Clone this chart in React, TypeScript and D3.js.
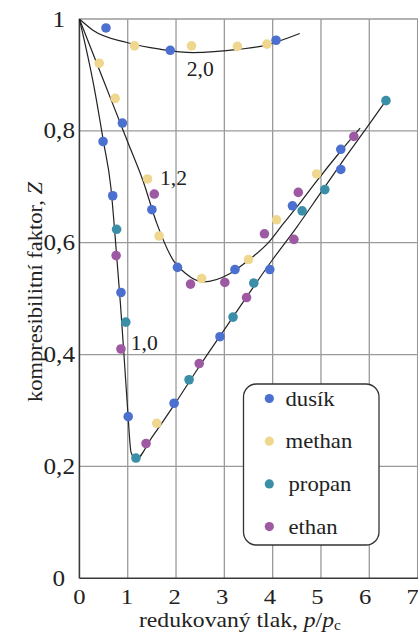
// App.tsx
import * as d3 from 'd3';
import React, { useRef, useEffect } from 'react';

// reduced pressure ticks and Z ticks
const xTicks = [0, 1, 2, 3, 4, 5, 6, 7];
const yTicks = [0, 0.2, 0.4, 0.6, 0.8, 1];
const yTickLabels = ["0", "0,2", "0,4", "0,6", "0,8", "1"];

// isotherms (reduced temperature)
const curve20 = [[0, 1], [0.28, 0.98], [0.98, 0.958], [1.67, 0.946], [2.35, 0.94], [3.32, 0.946], [3.8, 0.952], [4.56, 0.974]];
const curve12 = [[0, 1], [0.5, 0.89], [1.0, 0.78], [1.32, 0.71], [1.6, 0.635], [1.94, 0.569], [2.2, 0.545], [2.56, 0.53], [3.12, 0.545], [3.46, 0.566], [3.94, 0.603], [4.22, 0.634], [4.6, 0.675], [4.91, 0.71], [5.41, 0.764], [5.81, 0.805]];
const curve10 = [[0, 1], [0.3, 0.88], [0.5, 0.78], [0.65, 0.7], [0.75, 0.6], [0.85, 0.49], [0.93, 0.39], [1.0, 0.3], [1.07, 0.225], [1.17, 0.213], [1.5, 0.252], [2.0, 0.315], [2.43, 0.372], [2.98, 0.442], [3.5, 0.508], [4.0, 0.57], [4.5, 0.628], [5.0, 0.69], [5.5, 0.752], [6.0, 0.812], [6.345, 0.854]];

// measured gases
const dusik = [[0.55, 0.984], [1.88, 0.944], [4.07, 0.962], [0.89, 0.814], [1.5, 0.659], [2.03, 0.556], [3.22, 0.552], [5.41, 0.767], [0.49, 0.781], [0.69, 0.684], [0.86, 0.511], [1.01, 0.289], [1.96, 0.313], [2.91, 0.432], [3.94, 0.552], [4.41, 0.666], [5.41, 0.731]];
const methan = [[0.41, 0.921], [1.14, 0.952], [2.32, 0.952], [3.27, 0.951], [3.88, 0.955], [0.74, 0.858], [1.41, 0.714], [1.65, 0.612], [2.53, 0.536], [3.5, 0.57], [4.08, 0.641], [4.91, 0.723], [1.6, 0.277]];
const propan = [[0.77, 0.624], [0.96, 0.458], [1.17, 0.215], [2.27, 0.355], [3.18, 0.467], [3.61, 0.528], [4.61, 0.657], [5.08, 0.695], [6.345, 0.854]];
const ethan = [[0.76, 0.577], [0.86, 0.41], [1.38, 0.241], [2.48, 0.384], [1.55, 0.687], [2.3, 0.526], [3.01, 0.529], [3.46, 0.502], [3.83, 0.616], [4.44, 0.606], [4.53, 0.69], [5.68, 0.79]];

const gases = [
    { name: "dusík", color: "#4b70cf", data: dusik },
    { name: "methan", color: "#f0d78f", data: methan },
    { name: "propan", color: "#3b8ea7", data: propan },
    { name: "ethan", color: "#9d5aa2", data: ethan },
];

const width = 418;
const height = 634;
const font = "Liberation Serif, Tinos, serif";

function Chart() {
    const ref = useRef(null);

    useEffect(() => {
        draw();
    }, []);

    const draw = () => {
        const svg = d3.select(ref.current);
        svg.selectAll("*").remove();

        const x = d3.scaleLinear().domain([0, 7]).range([79.4, 417.6]);
        const y = d3.scaleLinear().domain([0, 1]).range([578.3, 19]);

        svg.append("rect").attr("width", width).attr("height", height).attr("fill", "#ffffff");

        // grid
        svg.append("g").selectAll("line")
            .data(xTicks.slice(1)).enter().append("line")
            .attr("x1", d => x(d)).attr("x2", d => x(d))
            .attr("y1", y(0)).attr("y2", y(1))
            .attr("stroke", "#9a9a9a").attr("stroke-width", 1.3);
        svg.append("g").selectAll("line")
            .data(yTicks.slice(1)).enter().append("line")
            .attr("x1", x(0)).attr("x2", width)
            .attr("y1", d => y(d)).attr("y2", d => y(d))
            .attr("stroke", "#9a9a9a").attr("stroke-width", 1.3);

        // axes
        svg.append("line")
            .attr("x1", x(0)).attr("x2", x(0)).attr("y1", y(1)).attr("y2", y(0))
            .attr("stroke", "#3a3a3a").attr("stroke-width", 1.6);
        svg.append("line")
            .attr("x1", x(0)).attr("x2", width).attr("y1", y(0)).attr("y2", y(0))
            .attr("stroke", "#3a3a3a").attr("stroke-width", 1.6);

        // tick labels
        svg.append("g").selectAll("text")
            .data(xTicks).enter().append("text")
            .attr("transform", d => "translate(" + (x(d) - 0.7 * d) + ",604) scale(1.12,1)")
            .attr("text-anchor", "middle")
            .style("font-family", font).style("font-size", "22px").attr("fill", "#222")
            .text(d => d);
        svg.append("g").selectAll("text")
            .data(yTicks).enter().append("text")
            .attr("transform", (d, i) => "translate(" + (yTickLabels[i].length > 1 ? 75 : 65) + "," + (y(d) + 7.5) + ") scale(1.12,1)")
            .attr("text-anchor", "end")
            .style("font-family", font).style("font-size", "22.5px").attr("fill", "#222")
            .text((d, i) => yTickLabels[i]);

        // isotherms
        const line = d3.line().x(d => x(d[0])).y(d => y(d[1])).curve(d3.curveMonotoneX);
        [curve20, curve12, curve10].forEach(c => {
            svg.append("path").attr("d", line(c))
                .attr("fill", "none").attr("stroke", "#222").attr("stroke-width", 1.2);
        });

        // curve labels
        const curveLabels = [["2,0", 186.7, 76], ["1,2", 160, 185], ["1,0", 130.7, 350]];
        svg.append("g").selectAll("text")
            .data(curveLabels).enter().append("text")
            .attr("transform", d => "translate(" + d[1] + "," + d[2] + ") scale(1.08,1)")
            .style("font-family", font).style("font-size", "20px").attr("fill", "#222")
            .text(d => d[0]);

        // points
        gases.forEach(g => {
            svg.append("g").selectAll("circle")
                .data(g.data).enter().append("circle")
                .attr("cx", d => x(d[0])).attr("cy", d => y(d[1]))
                .attr("r", 4.8).attr("fill", g.color);
        });

        // legend
        const lg = svg.append("g");
        lg.append("rect")
            .attr("x", 243.5).attr("y", 384).attr("width", 135.5).attr("height", 161)
            .attr("rx", 13).attr("fill", "#fff").attr("stroke", "#333").attr("stroke-width", 1.3);
        gases.forEach((g, i) => {
            const cy = 398.5 + i * 42.7;
            lg.append("circle").attr("cx", 269.3).attr("cy", cy).attr("r", 4.6).attr("fill", g.color);
            lg.append("text")
                .attr("transform", "translate(" + (i < 2 ? 285.5 : 288.5) + "," + (cy + 7.2) + ") scale(1.08,1)")
                .style("font-family", font).style("font-size", "21px").attr("fill", "#222")
                .text(g.name);
        });

        // axis titles
        const xt = svg.append("text")
            .attr("transform", "translate(139,627) scale(1.1,1)")
            .style("font-family", font).style("font-size", "21.5px").attr("fill", "#222");
        xt.append("tspan").text("redukovaný tlak, ");
        xt.append("tspan").attr("font-style", "italic").text("p");
        xt.append("tspan").text("/");
        xt.append("tspan").attr("font-style", "italic").text("p");
        xt.append("tspan").style("font-size", "14px").attr("dy", 3).text("c");

        const yt = svg.append("text")
            .attr("transform", "translate(42,292) rotate(-90) scale(1.1,1)")
            .attr("text-anchor", "middle")
            .style("font-family", font).style("font-size", "20.5px").attr("fill", "#222");
        yt.append("tspan").text("kompresibilitní faktor, ");
        yt.append("tspan").attr("font-style", "italic").text("Z");
    };

    return (
        <svg ref={ref} width={width} height={height} style={{ display: "block" }}></svg>
    );
}

export default function App() {
    return (
        <div style={{ position: "fixed", left: 0, top: 0 }}>
            <Chart />
        </div>
    );
}
